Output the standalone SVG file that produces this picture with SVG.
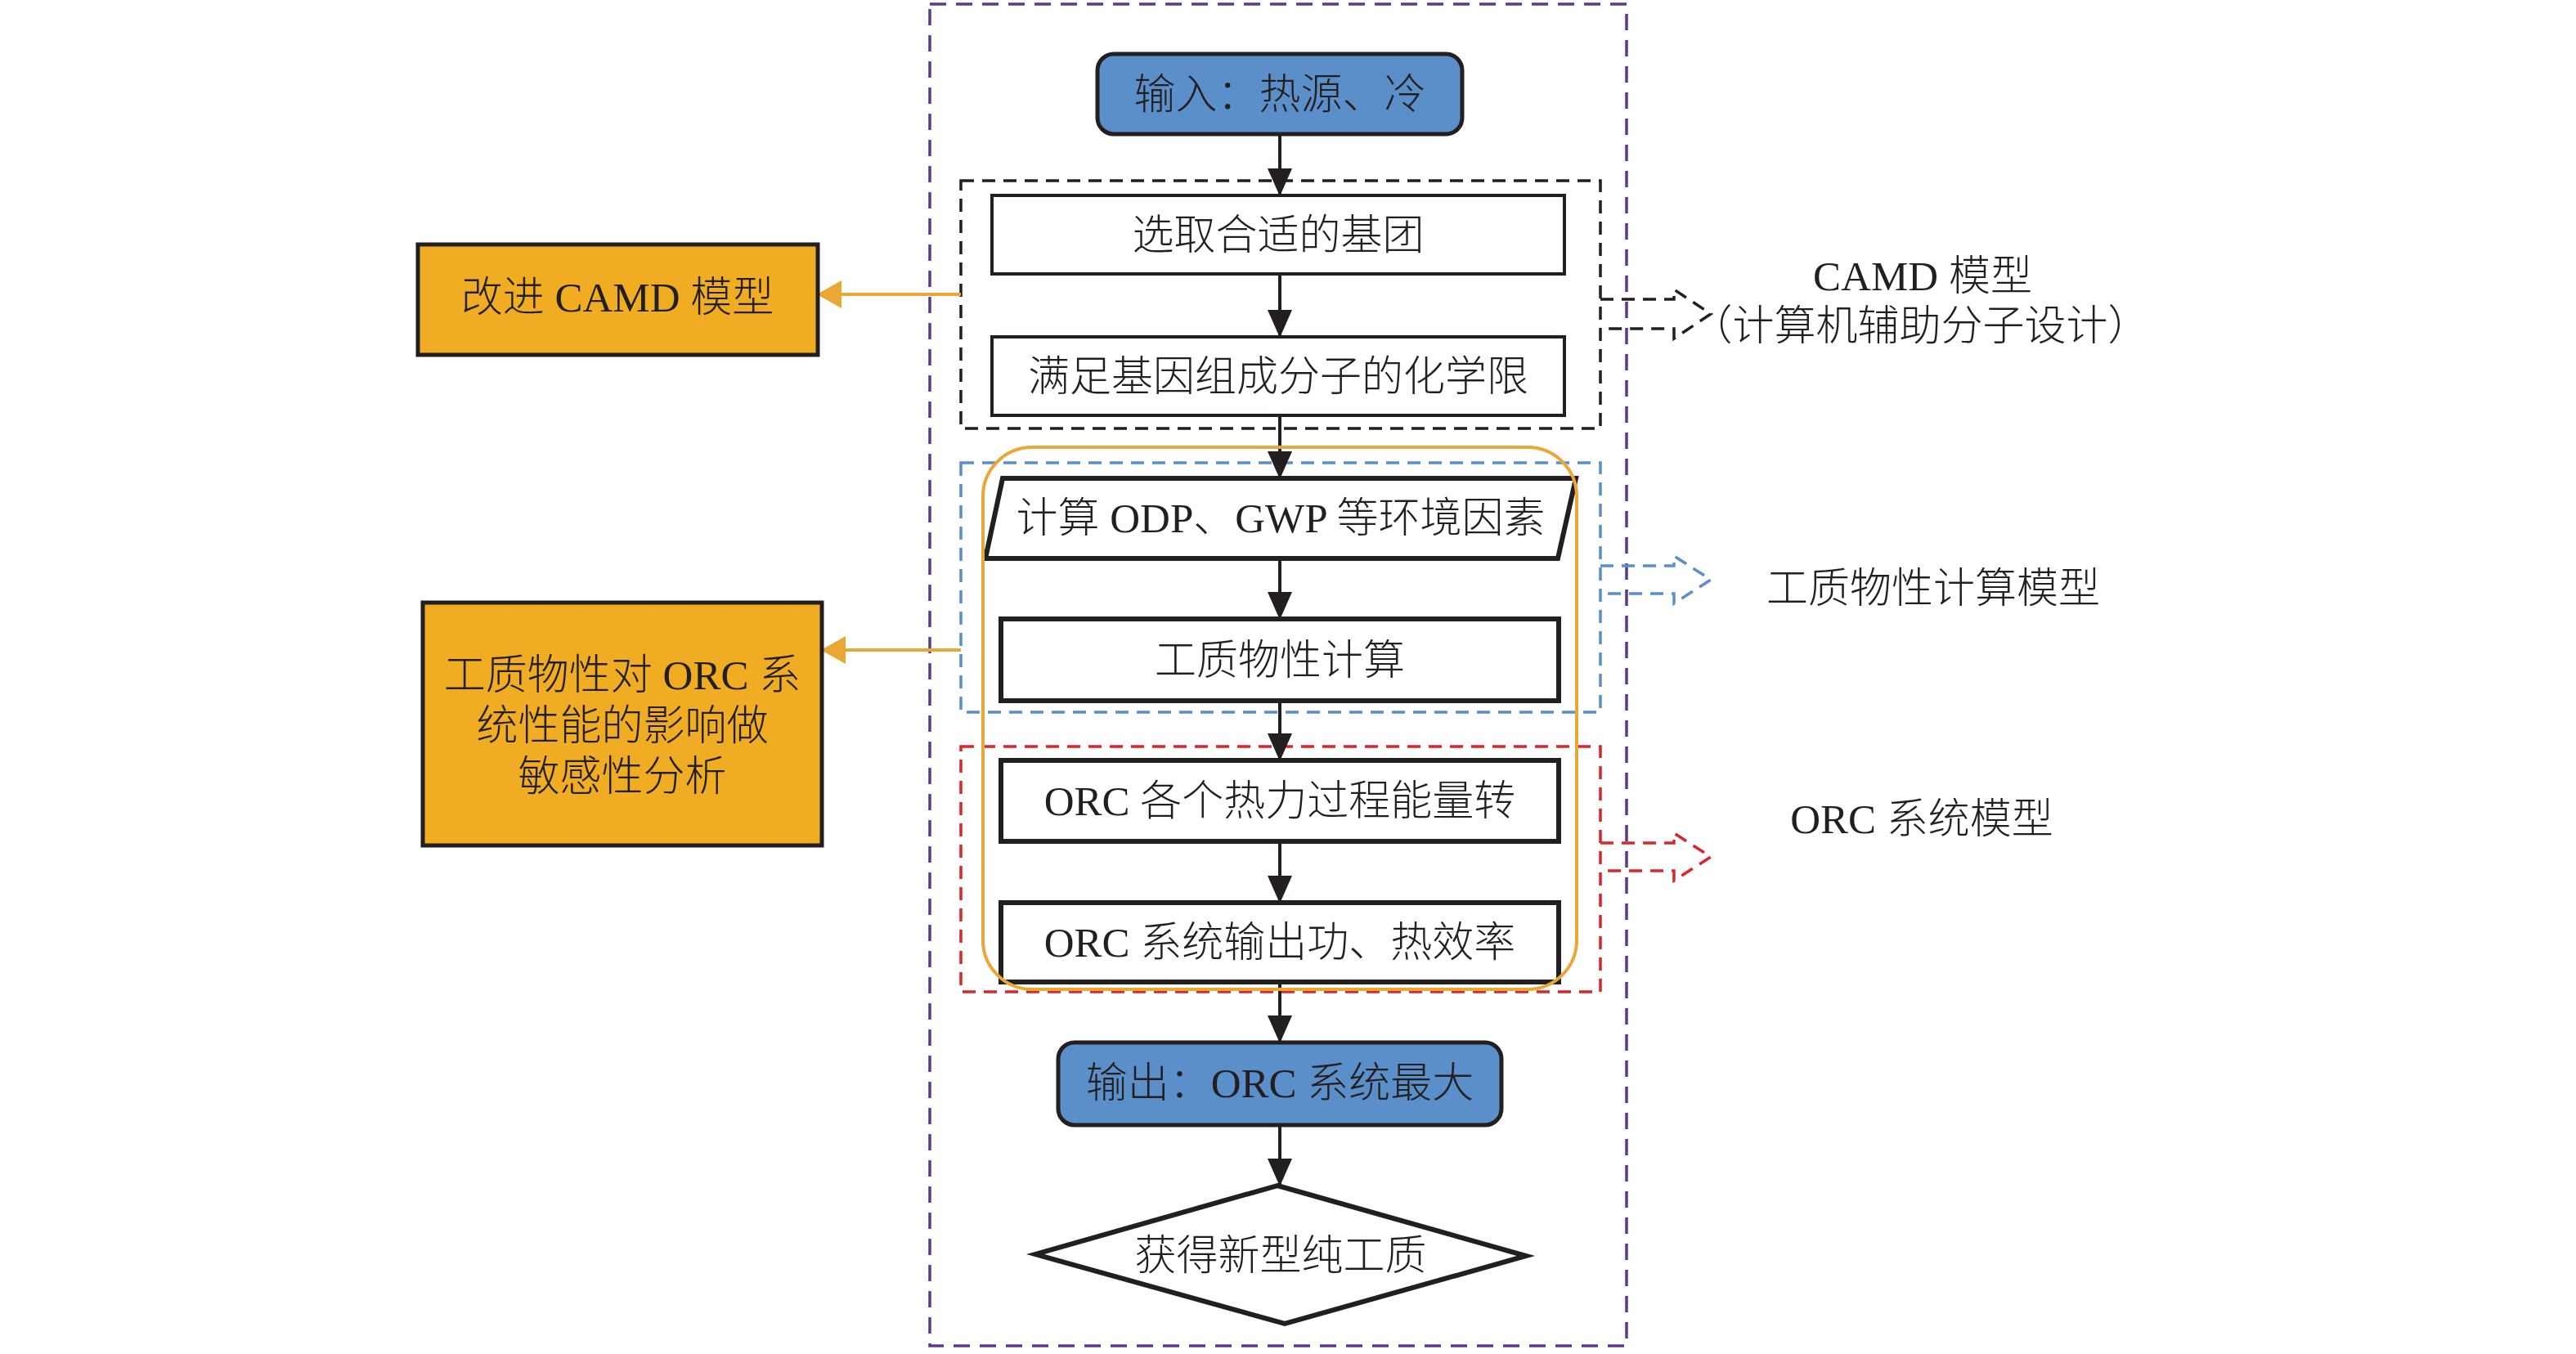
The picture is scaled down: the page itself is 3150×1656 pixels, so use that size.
<svg xmlns="http://www.w3.org/2000/svg" width="3150" height="1656" viewBox="0 0 3150 1656">
<style>
text{font-family:"Liberation Serif","Noto Sans CJK SC",serif;font-size:51px;font-weight:300;fill:#231F20;text-anchor:middle;dominant-baseline:central}
.box{fill:#fff;stroke:#231F20;stroke-width:4}
.boxb{fill:#fff;stroke:#231F20;stroke-width:6}
.blue{fill:#5B8FC9;stroke:#231F20;stroke-width:5}
.org{fill:#F0AC22;stroke:#231F20;stroke-width:5}
.conn{stroke:#231F20;stroke-width:4;fill:none}
.oconn{stroke:#E9A735;stroke-width:4;fill:none}
.dash{fill:none;stroke-width:3.5}
</style>
<defs>
<marker id="ah" viewBox="0 0 34 30" markerWidth="34" markerHeight="30" refX="33" refY="15" orient="auto" markerUnits="userSpaceOnUse"><path d="M0,0 L34,15 L0,30 z" fill="#231F20"/></marker>
<marker id="oah" viewBox="0 0 30 34" markerWidth="30" markerHeight="34" refX="29" refY="17" orient="auto" markerUnits="userSpaceOnUse"><path d="M0,0 L30,17 L0,34 z" fill="#E9A735"/></marker>
</defs>
<rect width="3150" height="1656" fill="#fff"/>
<g id="frames">
<rect id="frame-all" x="1137" y="5" width="852" height="1641" class="dash" stroke="#5E3A8C" stroke-dasharray="20,12"/>
<rect id="frame-camd" x="1175" y="221" width="782" height="303" class="dash" stroke="#231F20" stroke-dasharray="16,10"/>
<rect id="frame-prop" x="1175" y="566" width="782" height="305" class="dash" stroke="#5B8FC9" stroke-dasharray="16,10"/>
<rect id="frame-orc" x="1175" y="913" width="782" height="300" class="dash" stroke="#D9262B" stroke-dasharray="16,10"/>
</g>
<g id="connectors">
<line x1="1565" y1="163" x2="1565" y2="239" class="conn" marker-end="url(#ah)"/>
<line x1="1565" y1="335" x2="1565" y2="412" class="conn" marker-end="url(#ah)"/>
<line x1="1565" y1="508" x2="1565" y2="585" class="conn" marker-end="url(#ah)"/>
<line x1="1565" y1="683" x2="1565" y2="757" class="conn" marker-end="url(#ah)"/>
<line x1="1565" y1="857" x2="1565" y2="930" class="conn" marker-end="url(#ah)"/>
<line x1="1565" y1="1029" x2="1565" y2="1104" class="conn" marker-end="url(#ah)"/>
<line x1="1565" y1="1201" x2="1565" y2="1275" class="conn" marker-end="url(#ah)"/>
<line x1="1565" y1="1376" x2="1565" y2="1450" class="conn" marker-end="url(#ah)"/>
<line x1="1175" y1="360" x2="1000" y2="360" class="oconn" marker-end="url(#oah)"/>
<line x1="1175" y1="795" x2="1005" y2="795" class="oconn" marker-end="url(#oah)"/>
<polyline points="1957,366 2047,366 2047,354 2092,384 2047,414 2047,402 1957,402" class="dash" stroke="#231F20" stroke-dasharray="16,10"/>
<polyline points="1957,692 2047,692 2047,680 2092,709 2047,738 2047,726 1957,726" class="dash" stroke="#5B8FC9" stroke-dasharray="16,10"/>
<polyline points="1957,1031 2047,1031 2047,1019 2092,1048 2047,1077 2047,1065 1957,1065" class="dash" stroke="#D9262B" stroke-dasharray="16,10"/>
</g>
<g id="n-input"><rect x="1342" y="66" width="446" height="98" rx="20" class="blue"/><text x="1565" y="116">输入：热源、冷</text></g>
<g id="n-select"><rect x="1213" y="239" width="700" height="96" class="box"/><text x="1563" y="288">选取合适的基团</text></g>
<g id="n-limit"><rect x="1213" y="412" width="700" height="96" class="box"/><text x="1563" y="461">满足基因组成分子的化学限</text></g>
<g id="n-env"><polygon points="1226,585 1927,585 1905,683 1205,683" class="boxb" stroke-width="5"/><text x="1566" y="634">计算 ODP、GWP 等环境因素</text></g>
<g id="n-prop"><rect x="1224" y="757" width="682" height="100" class="boxb"/><text x="1565" y="808">工质物性计算</text></g>
<g id="n-orc1"><rect x="1224" y="930" width="682" height="99" class="boxb"/><text x="1565" y="980">ORC 各个热力过程能量转</text></g>
<g id="n-orc2"><rect x="1224" y="1104" width="682" height="97" class="boxb"/><text x="1565" y="1153">ORC 系统输出功、热效率</text></g>
<g id="n-output"><rect x="1294" y="1275" width="542" height="101" rx="20" class="blue"/><text x="1565" y="1325">输出：ORC 系统最大</text></g>
<g id="n-result"><polygon points="1562,1450 1866,1536 1571,1619 1266,1534" class="boxb"/><text x="1566" y="1536">获得新型纯工质</text></g>
<g id="n-loop"><rect x="1202" y="547" width="726" height="663" rx="60" fill="none" stroke="#E9A735" stroke-width="4"/></g>
<g id="n-camd-improve"><rect x="511" y="299" width="489" height="135" class="org"/><text x="755" y="364">改进 CAMD 模型</text></g>
<g id="n-sensitivity"><rect x="517" y="737" width="488" height="297" class="org"/><text x="761" y="826">工质物性对 ORC 系</text><text x="761" y="888">统性能的影响做</text><text x="761" y="950">敏感性分析</text></g>
<g id="labels">
<text x="2351" y="338">CAMD 模型</text>
<text x="2348" y="399">（计算机辅助分子设计）</text>
<text x="2364" y="720">工质物性计算模型</text>
<text x="2350" y="1002">ORC 系统模型</text>
</g>
</svg>
